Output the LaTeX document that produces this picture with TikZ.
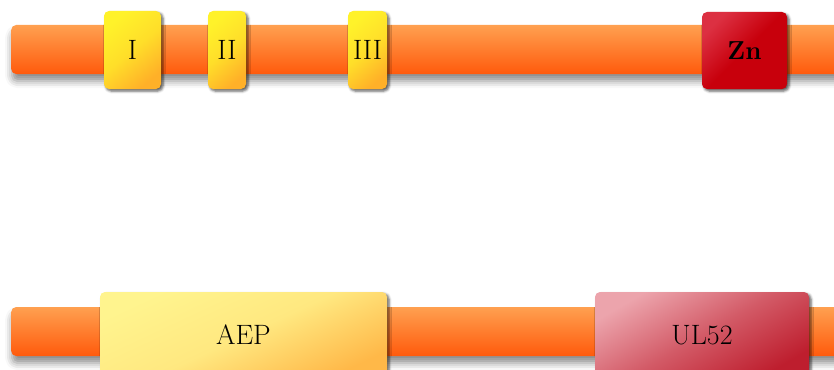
\documentclass[tikz,border=0pt]{standalone}
\usetikzlibrary{shadows,shadows.blur}
\definecolor{barTop}{HTML}{FFA050}
\definecolor{barBot}{HTML}{FF5A0C}
\definecolor{yelA}{HTML}{FFF22A}
\definecolor{yelB}{HTML}{FFB028}
\definecolor{paleA}{HTML}{FFF48E}
\definecolor{paleB}{HTML}{FFB848}
\definecolor{znA}{HTML}{DC3042}
\definecolor{znB}{HTML}{C8000C}
\definecolor{ulA}{HTML}{ECA4AC}
\definecolor{ulB}{HTML}{BE1E2E}
\tikzset{
  shbar/.style={blur shadow={shadow xshift=1pt, shadow yshift=-7pt, shadow blur radius=7pt, shadow opacity=45}},
  shbox/.style={blur shadow={shadow xshift=2pt, shadow yshift=-2pt, shadow blur radius=2.5pt, shadow opacity=65}},
  bar/.style={rectangle, rounded corners=5pt, top color=barTop, bottom color=barBot, inner sep=0pt, minimum height=49pt, shbar},
  lbl/.style={font=\fontsize{28}{32}\selectfont, text=black, inner sep=0pt},
  ybox/.style={rectangle, rounded corners=5pt, top color=yelA, bottom color=yelB, middle color=yelA!70!yelB, shading angle=40, lbl, shbox},
  pbox/.style={rectangle, rounded corners=5pt, top color=paleA, bottom color=paleB, middle color=paleA!80!paleB, shading angle=25, lbl, shbox},
  zbox/.style={rectangle, rounded corners=5pt, top color=znA, bottom color=znB, middle color=znB, shading angle=45, lbl, shbox, font=\fontsize{26}{30}\selectfont\bfseries},
  ubox/.style={rectangle, rounded corners=5pt, top color=ulA, bottom color=ulB, middle color=ulA!45!ulB, shading angle=30, lbl, shbox},
}
\begin{document}
\begin{tikzpicture}[x=1pt,y=-1pt]
\useasboundingbox (0,0) rectangle (834,369);
\clip (0,0) rectangle (834,369);
% top domain bar
\node[bar, minimum width=840pt, anchor=west] (bar1) at (11,49.5) {};
\node[ybox, minimum width=57pt, minimum height=78pt] (I) at (132.5,50) {I};
\node[ybox, minimum width=38pt, minimum height=78pt] (II) at (227,50) {II};
\node[ybox, minimum width=39pt, minimum height=78pt] (III) at (367.5,50) {III};
\node[zbox, minimum width=85pt, minimum height=77pt] (Zn) at (744.5,50.5) {Zn};
% bottom domain bar
\node[bar, minimum width=840pt, anchor=west] (bar2) at (11,331.5) {};
\node[pbox, minimum width=287pt, minimum height=86pt] (AEP) at (243.5,335) {AEP};
\node[ubox, minimum width=214pt, minimum height=86pt] (UL52) at (702,335) {UL52};
\end{tikzpicture}
\end{document}
